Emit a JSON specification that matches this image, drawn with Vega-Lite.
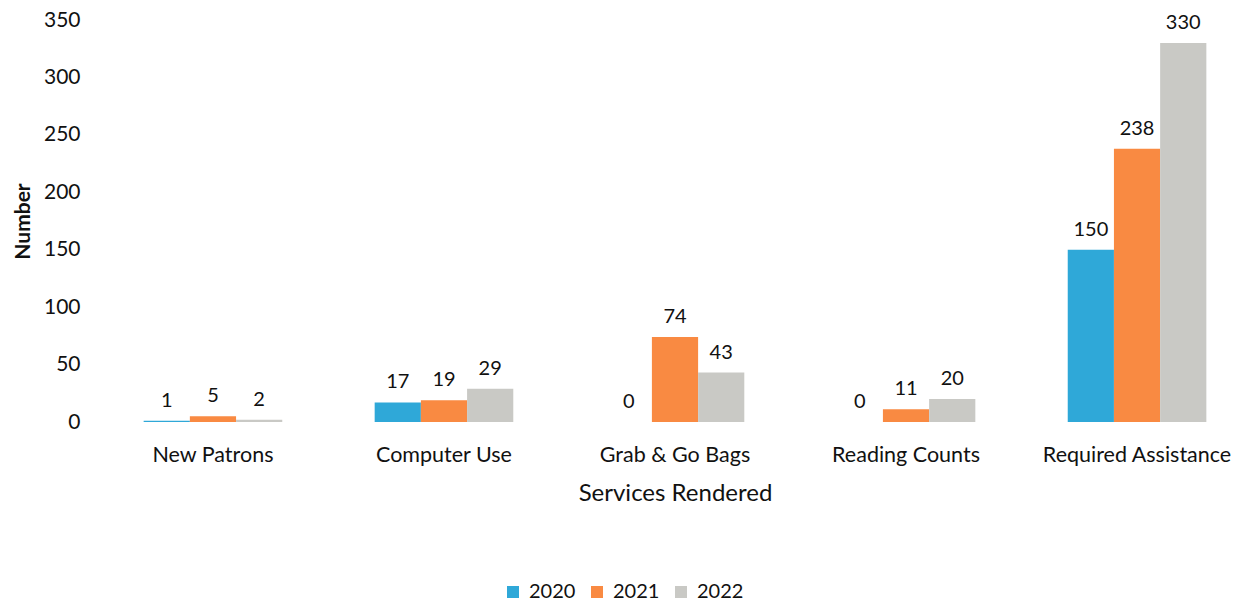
{
  "$schema": "https://vega.github.io/schema/vega-lite/v6.json",
  "autosize": "none",
  "width": 1132,
  "height": 402,
  "padding": {"left": 109, "top": 20, "right": 0, "bottom": 182},
  "background": "white",
  "config": {
    "font": "Lato",
    "view": {"stroke": null}
  },
  "data": {
    "values": [
      {"service": "New Patrons", "year": "2020", "value": 1},
      {"service": "New Patrons", "year": "2021", "value": 5},
      {"service": "New Patrons", "year": "2022", "value": 2},
      {"service": "Computer Use", "year": "2020", "value": 17},
      {"service": "Computer Use", "year": "2021", "value": 19},
      {"service": "Computer Use", "year": "2022", "value": 29},
      {"service": "Grab & Go Bags", "year": "2020", "value": 0},
      {"service": "Grab & Go Bags", "year": "2021", "value": 74},
      {"service": "Grab & Go Bags", "year": "2022", "value": 43},
      {"service": "Reading Counts", "year": "2020", "value": 0},
      {"service": "Reading Counts", "year": "2021", "value": 11},
      {"service": "Reading Counts", "year": "2022", "value": 20},
      {"service": "Required Assistance", "year": "2020", "value": 150},
      {"service": "Required Assistance", "year": "2021", "value": 238},
      {"service": "Required Assistance", "year": "2022", "value": 330}
    ]
  },
  "encoding": {
    "x": {
      "field": "service", "type": "nominal", "sort": null,
      "scale": {"paddingInner": 0.4, "paddingOuter": 0.15},
      "axis": {
        "title": "Services Rendered", "labelAngle": 0, "domain": false, "ticks": false,
        "labelFontSize": 21.5, "labelColor": "#111", "labelPadding": 22, "labelLimit": 0,
        "titleFontSize": 24, "titleFontWeight": "normal", "titleColor": "#111", "titlePadding": 16
      }
    },
    "xOffset": {"field": "year", "type": "nominal"},
    "y": {
      "field": "value", "type": "quantitative",
      "scale": {"domain": [0, 350]},
      "axis": {
        "title": "Number", "values": [0, 50, 100, 150, 200, 250, 300, 350],
        "grid": false, "domain": false, "ticks": false,
        "labelFontSize": 21, "labelColor": "#111", "labelPadding": 29,
        "titleFontSize": 21, "titleFontWeight": "bold", "titleColor": "#111", "titlePadding": 10
      }
    }
  },
  "layer": [
    {
      "mark": {"type": "bar"},
      "encoding": {
        "color": {
          "field": "year", "type": "nominal",
          "scale": {"domain": ["2020", "2021", "2022"], "range": ["#2FA8D8", "#F98A42", "#C9C9C5"]},
          "legend": {
            "title": null, "orient": "none", "direction": "horizontal", "legendX": 394, "legendY": 562,
            "symbolType": "square", "symbolSize": 144, "labelFontSize": 20, "labelColor": "#111",
            "columnPadding": 11, "labelOffset": 6, "symbolStrokeWidth": 0
          }
        }
      }
    },
    {
      "mark": {"type": "text", "baseline": "bottom", "dy": -10, "fontSize": 20, "color": "#111"},
      "encoding": {"text": {"field": "value", "type": "quantitative"}}
    }
  ]
}
